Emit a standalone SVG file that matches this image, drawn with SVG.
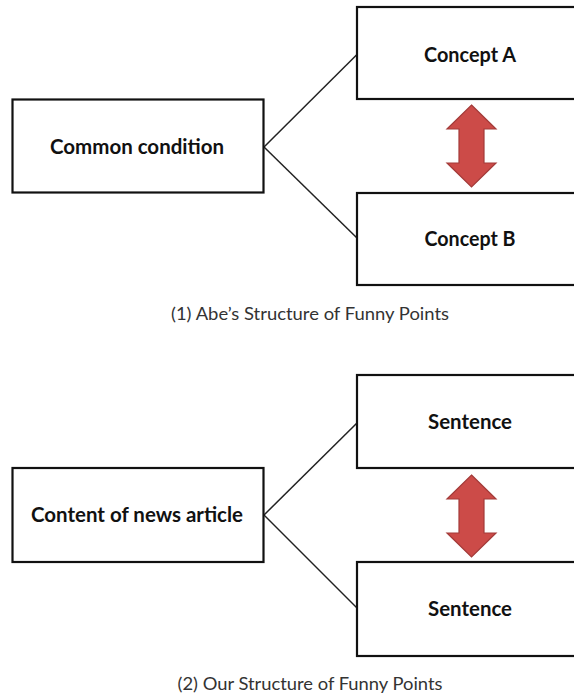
<svg xmlns="http://www.w3.org/2000/svg" width="574" height="696" viewBox="0 0 574 696">
<style>
.box{fill:#fff;stroke:#111;stroke-width:2.2}
.conn{stroke:#222;stroke-width:1.5;fill:none}
.lbl{font-family:Lato,"Liberation Sans",sans-serif;font-weight:bold;font-size:21px;fill:#111;text-anchor:middle}
.cap{font-family:Lato,"Liberation Sans",sans-serif;font-size:18px;fill:#333;text-anchor:middle}
.arr{fill:#cc4b48;stroke:#a33b39;stroke-width:1.2;stroke-linejoin:miter}
</style>
<rect width="574" height="696" fill="#fff"/>
<g id="connectors">
<line class="conn" x1="264" y1="147" x2="357" y2="54.5"/>
<line class="conn" x1="264" y1="147" x2="357" y2="238"/>
<line class="conn" x1="264" y1="515" x2="357" y2="423"/>
<line class="conn" x1="264" y1="515" x2="357" y2="608"/>
<path class="arr" d="M471.5,105 L496,129 L484,129 L484,163 L496,163 L471.5,187 L447,163 L459,163 L459,129 L447,129 Z"/>
<path class="arr" d="M471.5,475 L496,499 L484,499 L484,533 L496,533 L471.5,557 L447,533 L459,533 L459,499 L447,499 Z"/>
</g>
<g id="common">
<rect class="box" x="12.5" y="99.5" width="251" height="93"/>
<text class="lbl" x="137" y="153.5" textLength="174" lengthAdjust="spacingAndGlyphs">Common condition</text>
</g>
<g id="conceptA">
<rect class="box" x="357" y="7" width="230" height="92"/>
<text class="lbl" x="470" y="61.5" textLength="92" lengthAdjust="spacingAndGlyphs">Concept A</text>
</g>
<g id="conceptB">
<rect class="box" x="357" y="193" width="230" height="92"/>
<text class="lbl" x="470" y="246" textLength="91" lengthAdjust="spacingAndGlyphs">Concept B</text>
</g>
<text class="cap" x="310" y="319.5" textLength="278" lengthAdjust="spacingAndGlyphs">(1) Abe’s Structure of Funny Points</text>
<g id="content">
<rect class="box" x="12.5" y="468" width="251" height="94"/>
<text class="lbl" x="137" y="522" textLength="212" lengthAdjust="spacingAndGlyphs">Content of news article</text>
</g>
<g id="sentence1">
<rect class="box" x="357" y="375" width="230" height="93"/>
<text class="lbl" x="470" y="429" textLength="84" lengthAdjust="spacingAndGlyphs">Sentence</text>
</g>
<g id="sentence2">
<rect class="box" x="357" y="562" width="230" height="94"/>
<text class="lbl" x="470" y="616" textLength="84" lengthAdjust="spacingAndGlyphs">Sentence</text>
</g>
<text class="cap" x="310" y="690" textLength="265" lengthAdjust="spacingAndGlyphs">(2) Our Structure of Funny Points</text>
</svg>
